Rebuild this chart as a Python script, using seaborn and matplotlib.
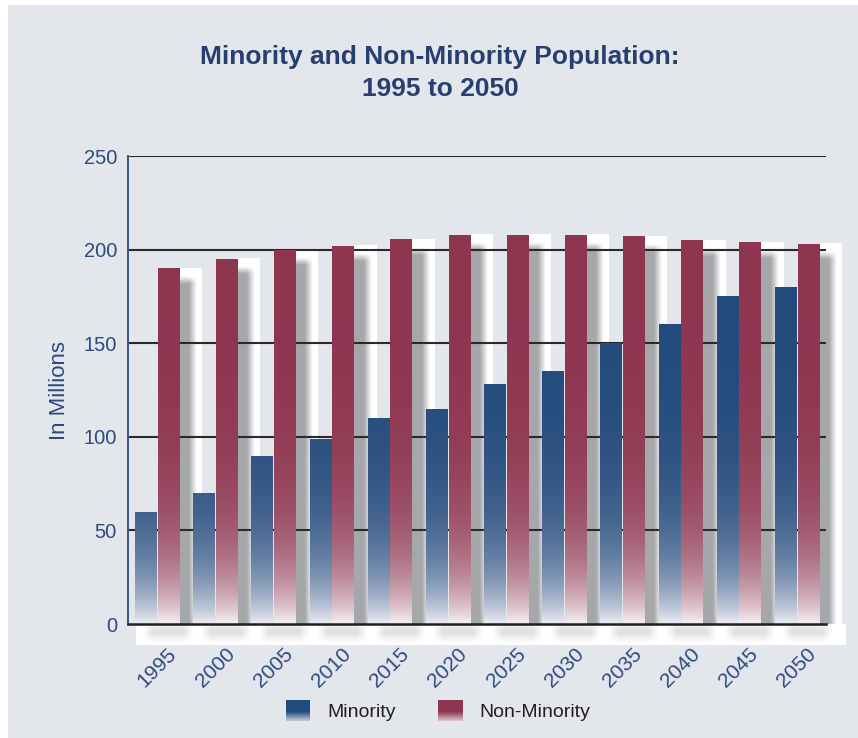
import numpy as np
import pandas as pd
import matplotlib
matplotlib.use("Agg")
import matplotlib.pyplot as plt
import matplotlib.colors as mcolors
from matplotlib.patches import Rectangle
from matplotlib.legend_handler import HandlerBase
import seaborn as sns

# data (millions)
years = ['1995', '2000', '2005', '2010', '2015', '2020',
         '2025', '2030', '2035', '2040', '2045', '2050']
minority = [60, 70, 90, 99, 110, 115, 128, 135, 150, 160, 175, 180]
non_minority = [190, 195, 200, 202, 205.5, 208, 208, 208, 207, 205, 204, 203]
groups = ['Minority', 'Non-Minority']
colors = ['#234a7c', '#8e3550']
fade_to = ['#ececf3', '#f4f0f2']
yticks = [0, 50, 100, 150, 200, 250]

df = pd.DataFrame({
    'Year': years * 2,
    'Population': minority + non_minority,
    'Group': [groups[0]] * len(years) + [groups[1]] * len(years),
})

sns.set_style('white')
plt.rcParams['font.family'] = ['Liberation Sans', 'DejaVu Sans']

bg = '#e3e6eb'
blue_txt = '#2c4a80'

fig = plt.figure(figsize=(8.58, 7.38), dpi=100)
fig.patch.set_facecolor('white')
# grey panel with a thin white border on top and left
fig.add_artist(Rectangle((8 / 858, 0), 1, 1 - 5 / 738, transform=fig.transFigure,
                         facecolor=bg, edgecolor='none', zorder=-10))

ax = fig.add_axes([128 / 858, 1 - 624 / 738, 698 / 858, 468 / 738])
ax.set_facecolor('none')

sns.barplot(data=df, x='Year', y='Population', hue='Group', palette=colors,
            width=0.78, gap=0.06, ax=ax, legend=False, zorder=3)


def vertical_gradient(base, end, h, n=256):
    yy = np.linspace(0, h, n)
    w = 1 - np.exp(-yy / 32.0)
    b = np.array(mcolors.to_rgb(base))
    e = np.array(mcolors.to_rgb(end))
    rgb = e[None, :] + (b - e)[None, :] * w[:, None]
    return rgb[:, None, :]


# shadow blocks behind the non-minority bars (fake 3D depth)
nm_bars = ax.containers[1]
for bar in nm_bars:
    x0 = bar.get_x() + bar.get_width()
    h = bar.get_height()
    bw = 0.38
    nx, ny = 60, 200
    xs = np.linspace(0, 1, nx)
    ys = np.linspace(0, h, ny)
    gx = np.clip((0.78 - xs) / 0.35, 0, 1)
    gx = np.where(xs < 0.43, 1.0, gx)
    gy = np.clip((h - 4 - ys) / 4.0, 0, 1)
    shade = gy[:, None] * gx[None, :]
    grey = np.array(mcolors.to_rgb('#a6a7ab'))
    img = 1 - shade[:, :, None] * (1 - grey[None, None, :])
    ax.imshow(img, extent=[x0, x0 + bw, 0, h], origin='lower', aspect='auto',
              zorder=1, clip_on=False, interpolation='bilinear')

# white strip and soft shadows under the baseline
ax.add_patch(Rectangle((-0.36, -11), 12.2, 11, facecolor='white', edgecolor='none',
                       zorder=1, clip_on=False))
for i in range(len(years)):
    xs = np.linspace(0, 1, 60)
    ys = np.linspace(0, 1, 40)
    ax_prof = np.clip(np.minimum(xs / 0.2, (1 - xs) / 0.2), 0, 1)
    ay_prof = np.exp(-((ys - 0.6) / 0.4) ** 2)
    alpha = 0.26 * ay_prof[:, None] * ax_prof[None, :]
    rgba = np.zeros((40, 60, 4))
    rgba[..., :3] = mcolors.to_rgb('#8a8b8f')
    rgba[..., 3] = alpha
    ax.imshow(rgba, extent=[i - 0.25, i + 0.62, -10, 0], origin='lower',
              aspect='auto', zorder=1.5, clip_on=False, interpolation='bilinear')

# gradient fill for every bar, clipped to the bar outline
for k, cont in enumerate(ax.containers):
    for bar in cont:
        h = bar.get_height()
        x0 = bar.get_x()
        img = ax.imshow(vertical_gradient(colors[k], fade_to[k], h),
                        extent=[x0, x0 + bar.get_width(), 0, h], origin='lower',
                        aspect='auto', zorder=3, interpolation='bilinear')
        img.set_clip_path(bar)
        bar.set_facecolor('none')
        bar.set_edgecolor('none')

ax.set_xlim(-0.5, len(years) - 0.5)
ax.set_ylim(0, 250)

# grid lines
for v in yticks[1:]:
    ax.axhline(v, color='#2a2a2a', lw=1.5, zorder=2)

for s in ['top', 'right']:
    ax.spines[s].set_visible(False)
ax.spines['left'].set_color('#3d5585')
ax.spines['left'].set_linewidth(1.4)
ax.spines['bottom'].set_color('#1e1e1e')
ax.spines['bottom'].set_linewidth(1.8)
ax.spines['bottom'].set_zorder(4)

ax.set_yticks(yticks)
ax.set_yticklabels([str(v) for v in yticks], fontsize=14.5, color=blue_txt)
ax.tick_params(axis='y', length=0, pad=8)

# tick marks between groups, labels at group centres
ax.set_xticks(np.arange(len(years)) + 0.5)
ax.set_xticklabels([])
ax.set_xticks(np.arange(len(years)), minor=True)
ax.set_xticklabels(years, minor=True, rotation=45, ha='center', fontsize=15,
                   color=blue_txt)
ax.tick_params(axis='x', which='major', direction='in', length=12, width=2.4,
               color='#1e1e1e')
ax.tick_params(axis='x', which='minor', length=0, pad=15)
for t in ax.xaxis.get_major_ticks():
    t.tick1line.set_zorder(5)

ax.set_xlabel('')
ax.set_ylabel('In Millions', fontsize=16, color=blue_txt, labelpad=10)

fig.text(440 / 858, 1 - 73 / 738, 'Minority and Non-Minority Population:\n1995 to 2050',
         ha='center', va='center', fontsize=19, fontweight='bold', color='#273f70',
         linespacing=1.4)


class HandlerGradient(HandlerBase):
    def create_artists(self, legend, orig_handle, xdescent, ydescent,
                       width, height, fontsize, trans):
        base = np.array(mcolors.to_rgb(orig_handle.get_facecolor()))
        end = np.array(mcolors.to_rgb('#f0eff4'))
        n = 20
        arts = []
        for j in range(n):
            f = j / (n - 1)
            w = min(1.0, 0.25 + f * 1.6)
            c = end + (base - end) * w
            r = Rectangle((-xdescent, -ydescent + height * j / n), width, height / n + 0.3,
                          facecolor=c, edgecolor='none', transform=trans)
            arts.append(r)
        return arts


handles = [Rectangle((0, 0), 1, 1, facecolor=c) for c in colors]
leg = fig.legend(handles, groups, loc='center', bbox_to_anchor=(438 / 858, 1 - 711 / 738),
                 ncol=2, frameon=False, fontsize=14, handlelength=1.25, handleheight=1.2,
                 handletextpad=0.85, columnspacing=2.2,
                 handler_map={Rectangle: HandlerGradient()})
for t in leg.get_texts():
    t.set_color('#231f20')

fig.savefig('out.png', dpi=100, facecolor=fig.get_facecolor())
